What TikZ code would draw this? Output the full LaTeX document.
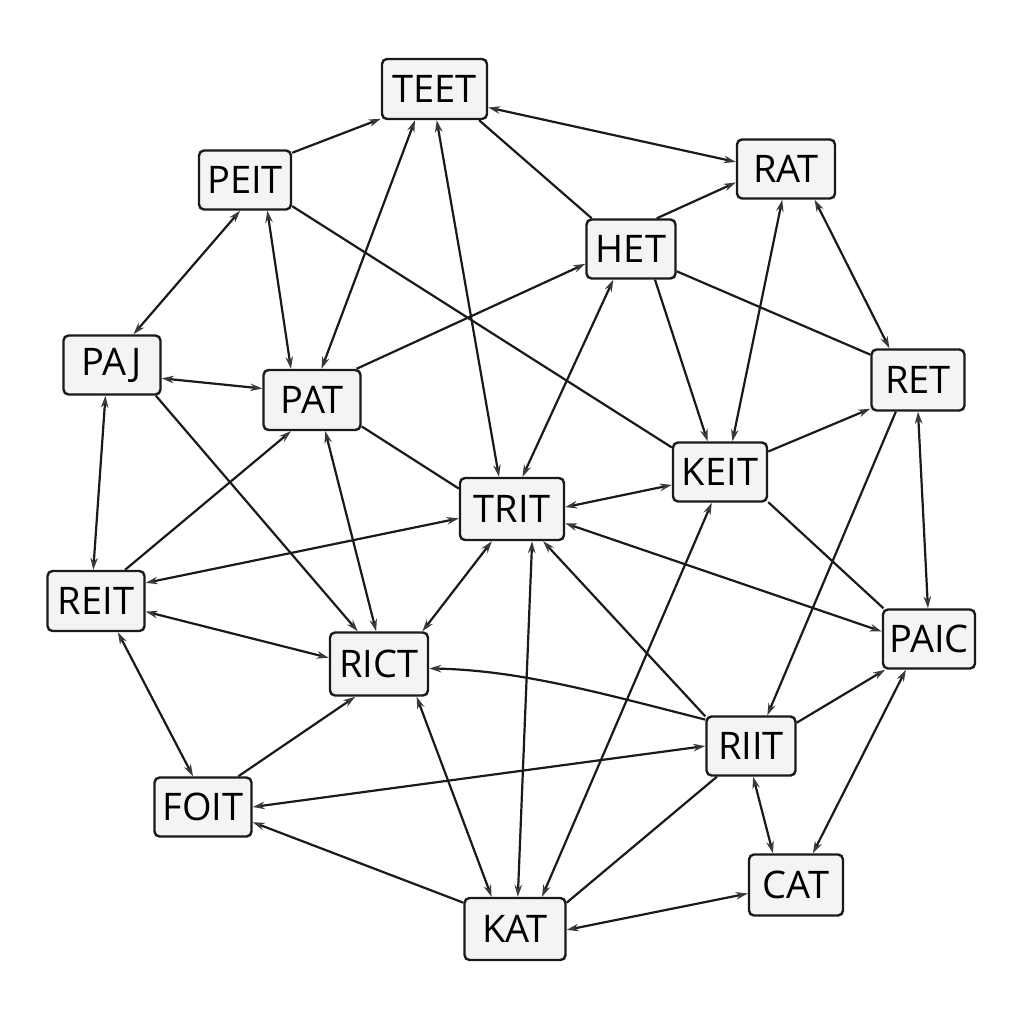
\documentclass[tikz,border=0pt]{standalone}
\usepackage{fontspec}
\setmainfont{Open Sans}
\usetikzlibrary{arrows.meta}
\definecolor{edgec}{HTML}{1A1A1A}
\definecolor{tipc}{HTML}{3A3A3A}
\definecolor{boxfill}{HTML}{F4F4F4}
\begin{document}
\begin{tikzpicture}[x=1pt,y=-1pt,
  box/.style={draw=edgec, fill=boxfill, line width=2.4pt, rounded corners=5pt,
    minimum height=59pt, inner sep=0pt, font=\fontsize{38}{38}\selectfont, text=black},
  link/.style={draw=edgec, line width=2.2pt},
  tip/.style={Stealth[length=12pt,width=7.5pt,color=tipc]},
  both/.style={link, {Stealth[length=12pt,width=7.5pt,color=tipc]}-{Stealth[length=12pt,width=7.5pt,color=tipc]}},
  fwd/.style={link, -{Stealth[length=12pt,width=7.5pt,color=tipc]}},
  plain/.style={link}
]
\useasboundingbox (0,0) rectangle (1024,1024);
\fill[white] (0,0) rectangle (1024,1024);

% nodes
\node[box, minimum width=105pt, minimum height=60pt] (TEET) at (434.5,89) {TEET};
\node[box, minimum width=92pt] (PEIT) at (245,180) {PEIT};
\node[box, minimum width=98pt] (RAT) at (786,169) {RAT};
\node[box, minimum width=89pt] (HET) at (631,249) {HET};
\node[box, minimum width=97pt] (PAJ) at (112,365) {PAJ};
\node[box, minimum width=97pt, minimum height=60pt] (PAT) at (312,400) {PAT};
\node[box, minimum width=97pt, minimum height=60pt] (REIT) at (96,601) {REIT};
\node[box, minimum width=93pt, minimum height=61pt] (RET) at (918,380) {RET};
\node[box, minimum width=94pt] (KEIT) at (720,472) {KEIT};
\node[box, minimum width=92pt] (PAIC) at (929,639) {PAIC};
\node[box, minimum width=104pt, minimum height=62pt] (TRIT) at (512,509) {TRIT};
\node[box, minimum width=98pt, minimum height=63pt] (RICT) at (379,664) {RICT};
\node[box, minimum width=97pt] (FOIT) at (203,807) {FOIT};
\node[box, minimum width=101pt, minimum height=62pt] (KAT) at (515,929) {KAT};
\node[box, minimum width=89pt] (RIIT) at (751,746) {RIIT};
\node[box, minimum width=94pt, minimum height=61pt] (CAT) at (796,885) {CAT};

% edges
\draw[fwd]   (PEIT.30)  -- (TEET.209);
\draw[both]  (TEET.341) -- (RAT.172);
\draw[plain] (TEET.325) -- (HET.142);
\draw[both]  (TEET.238) -- (PAT.73);
\draw[both]  (TEET.274) -- (TRIT.112);
\draw[fwd]   (HET.50)   -- (RAT.195);
\draw[both]  (PAJ.55)   -- (PEIT.261);
\draw[both]  (PEIT.306) -- (PAT.124);
\draw[plain] (PEIT.331) -- (KEIT.153);
\draw[both]  (PAJ.345)  -- (PAT.167);
\draw[both]  (PAJ.258)  -- (REIT.95);
\draw[fwd]   (PAJ.325)  -- (RICT.123);
\draw[fwd]   (PAT.35)   -- (HET.198);
\draw[plain] (PAT.332)  -- (TRIT.159);
\draw[both]  (PAT.293)  -- (RICT.95);
\draw[fwd]   (REIT.47)  -- (PAT.236);
\draw[both]  (HET.240)  -- (TRIT.72);
\draw[fwd]   (HET.308)  -- (KEIT.112);
\draw[plain] (HET.334)  -- (RET.152);
\draw[both]  (RAT.263)  -- (KEIT.68);
\draw[both]  (RAT.313)  -- (RET.132);
\draw[both]  (KEIT.195) -- (TRIT.2);
\draw[fwd]   (KEIT.23)  -- (RET.211);
\draw[plain] (KEIT.328) -- (PAIC.146);
\draw[both]  (KAT.50)   -- (KEIT.255);
\draw[both]  (RET.270)  -- (PAIC.92);
\draw[fwd]   (RET.235)  -- (RIIT.62);
\draw[both]  (TRIT.190) -- (REIT.20);
\draw[both]  (TRIT.345) -- (PAIC.171);
\draw[both]  (TRIT.238) -- (RICT.37);
\draw[both]  (TRIT.302) -- (KAT.85);
\draw[fwd]   (RIIT.147) -- (TRIT.314);
\draw[both]  (REIT.348) -- (RICT.173);
\draw[both]  (REIT.305) -- (FOIT.108);
\draw[fwd]   (FOIT.41)  -- (RICT.234);
\draw[fwd]   (RIIT.150) .. controls +(-110,-28) and +(90,2) .. (RICT.355);
\draw[both]  (RICT.319) -- (KAT.126);
\draw[both]  (FOIT.0)   -- (RIIT.180);
\draw[fwd]   (KAT.153)  -- (FOIT.343);
\draw[fwd]   (RIIT.27)  -- (PAIC.215);
\draw[both]  (RIIT.274) -- (CAT.126);
\draw[plain] (RIIT.222) -- (KAT.27);
\draw[both]  (PAIC.233) -- (CAT.62);
\draw[both]  (KAT.359)  -- (CAT.190);
\end{tikzpicture}
\end{document}
